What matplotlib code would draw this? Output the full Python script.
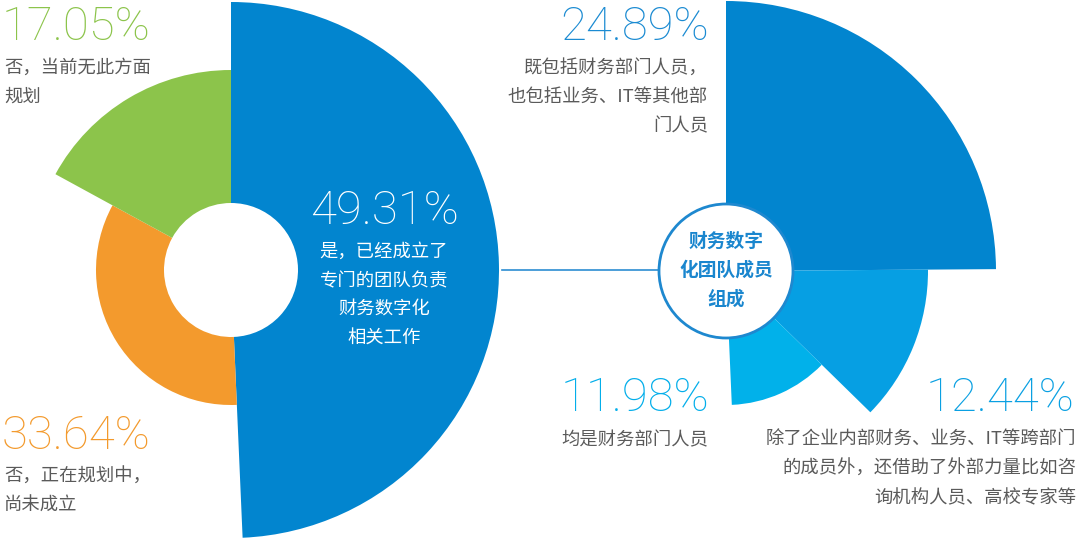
import matplotlib
matplotlib.use("Agg")
import matplotlib.pyplot as plt
from matplotlib.patches import Wedge, Circle

# data
left_values = [49.31, 33.64, 17.05]
left_labels = ["是，已经成立了\n专门的团队负责\n财务数字化\n相关工作",
               "否，正在规划中，\n尚未成立",
               "否，当前无此方面\n规划"]
right_values = [24.89, 12.44, 11.98]
right_labels = ["既包括财务部门人员，\n也包括业务、IT等其他部\n门人员",
                "除了企业内部财务、业务、IT等跨部门\n的成员外，还借助了外部力量比如咨\n询机构人员、高校专家等",
                "均是财务部门人员"]
center_title = "财务数字\n化团队成员\n组成"

# styles
left_colors = ["#0285CF", "#F39A2D", "#8CC44B"]
right_colors = ["#0285CF", "#069FE3", "#01B1EA"]
right_text_colors = ["#1B8BD2", "#0AA0E2", "#03AEEA"]
left_radii = [268, 135, 200]
right_radii = [270, 202, 134]
hole = 67
W, H = 1080, 547

NUM_FONT = ["Roboto", "Noto Sans CJK SC", "DejaVu Sans"]
CJK_FONT = ["Noto Sans CJK SC", "DejaVu Sans"]
GRAY = "#5a5a5a"


def Y(py):
    # pixel row (from top) -> data y
    return H - py


fig = plt.figure(figsize=(W / 100, H / 100), dpi=100)
ax = fig.add_axes([0, 0, 1, 1])
ax.set_xlim(0, W)
ax.set_ylim(0, H)
ax.axis("off")

# left rose pie with hole, starting at 12 o'clock going clockwise
lc = (231, Y(270))
start = 90.0
for v, r, c in zip(left_values, left_radii, left_colors):
    span = v / 100 * 360
    ax.add_patch(Wedge(lc, r, start - span, start, width=r - hole,
                       facecolor=c, edgecolor="none"))
    start -= span

# right rose pie (only half of the circle is used)
rc = (726, Y(271))
start = 90.0
for v, r, c in zip(right_values, right_radii, right_colors):
    span = v / 100 * 360
    ax.add_patch(Wedge(rc, r, start - span, start,
                       facecolor=c, edgecolor="none"))
    start -= span

# connector and center badge
ax.plot([502, rc[0] - hole], [Y(270), Y(270)], color="#2C8DD2", lw=1.2)
ax.add_patch(Circle(rc, hole, facecolor="white", edgecolor="#1E88CF", lw=2, zorder=3))
ax.text(rc[0], rc[1] + 1, center_title, ha="center", va="center", color="#1A86CE",
        fontsize=13.5, fontweight="bold", family=CJK_FONT, linespacing=1.65, zorder=4)


def pct(x, y, v, color, ha):
    ax.text(x, Y(y), "{:.2f}%".format(v), ha=ha, va="baseline", color=color,
            fontsize=34, fontweight="light", family=NUM_FONT)


def desc(x, y, s, color, ha, multi="left"):
    ax.text(x, Y(y), s, ha=ha, va="top", color=color, fontsize=13.2,
            family=CJK_FONT, linespacing=1.78, multialignment=multi)


# left labels
pct(384, 224, left_values[0], "white", "center")
desc(384, 243, left_labels[0], "white", "center", "center")
pct(2, 449, left_values[1], left_colors[1], "left")
desc(4, 468, left_labels[1], GRAY, "left")
pct(2, 40, left_values[2], left_colors[2], "left")
desc(4, 59, left_labels[2], GRAY, "left")

# right labels
pct(709, 40, right_values[0], right_text_colors[0], "right")
desc(708, 59, right_labels[0], GRAY, "right", "right")
pct(1075, 411, right_values[1], right_text_colors[1], "right")
desc(1076, 431, right_labels[1], GRAY, "right", "right")
pct(709, 411, right_values[2], right_text_colors[2], "right")
desc(708, 431, right_labels[2], GRAY, "right", "right")

fig.savefig("out.png", dpi=100, facecolor="white")
